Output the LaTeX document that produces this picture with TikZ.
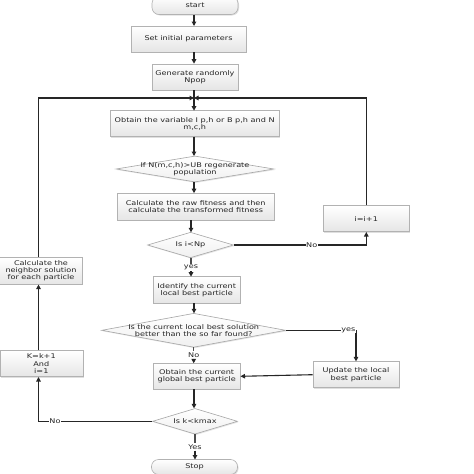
\documentclass[tikz,border=0pt]{standalone}
\usepackage{fontspec}
\setmainfont{DejaVu Sans}[FakeStretch=1.25]
\usetikzlibrary{arrows.meta,shapes.geometric,shadows}
\begin{document}
\begin{tikzpicture}[x=1pt,y=-1pt,
  every node/.style={font=\fontsize{6.5}{7.2}\selectfont, text=black!85, align=center},
  procbox/.style={rectangle, draw=black!30, line width=0.6pt, top color=white, bottom color=black!10,
    drop shadow={opacity=0.25, shadow xshift=1pt, shadow yshift=-1pt},
    inner sep=1pt, align=center},
  termbox/.style={procbox, rounded corners=7pt},
  decbox/.style={diamond, draw=black!35, line width=0.6pt, top color=white, bottom color=black!6,
    drop shadow={opacity=0.2, shadow xshift=1pt, shadow yshift=-1pt},
    inner sep=0pt, aspect=3},
  lbl/.style={fill=white, inner sep=0.5pt},
  flow/.style={draw=black!85, line width=1.1pt, -{Triangle[length=4.5pt,width=4.5pt]}},
  plain/.style={draw=black!70, line width=1.1pt}
]
\clip (0,0) rectangle (474,474);
\fill[white] (0,0) rectangle (474,474);

\node[termbox, minimum width=86pt, minimum height=18pt] (start) at (195,5.5) {start};
\node[procbox, minimum width=115pt, minimum height=26pt] (setp) at (188.5,39) {Set initial parameters};
\node[procbox, minimum width=86pt, minimum height=26pt] (gen) at (195,77) {Generate randomly\\Npop};
\coordinate (junc) at (194,98);
\node[procbox, minimum width=169pt, minimum height=26pt] (obt) at (194.7,123.7) {Obtain the variable I p,h or B p,h and N\\m,c,h};
\node[decbox, minimum width=158pt, minimum height=26pt] (ifn) at (195,169) {};
\node at (ifn) {If N(m,c,h)>UB regenerate\\population};
\node[procbox, minimum width=157pt, minimum height=27pt] (calc) at (195.7,206.7) {Calculate the raw fitness and then\\calculate the transformed fitness};
\node[decbox, minimum width=86pt, minimum height=25.5pt] (isnp) at (190.5,245) {};
\node at (isnp) {Is i<Np};
\node[procbox, minimum width=86pt, minimum height=26pt] (iplus) at (366.3,218.7) {i=i+1};
\node[procbox, minimum width=82.5pt, minimum height=26.5pt] (neigh) at (41,271) {Calculate the\\neighbor solution\\for each particle};
\node[procbox, minimum width=87pt, minimum height=26.6pt] (ident) at (196.7,290) {Identify the current\\local best particle};
\node[decbox, minimum width=184pt, minimum height=34pt] (better) at (193.7,330.3) {};
\node at (better) {Is the current local best solution\\better than the so far found?};
\node[procbox, minimum width=86pt, minimum height=26pt] (upd) at (356,374.7) {Update the local\\best particle};
\node[procbox, minimum width=87pt, minimum height=26pt] (glob) at (196.7,376.3) {Obtain the current\\global best particle};
\node[decbox, minimum width=85pt, minimum height=25.7pt] (iskm) at (195,421.3) {};
\node at (iskm) {Is k<kmax};
\node[procbox, minimum width=83pt, minimum height=26pt] (kek) at (41.3,363.7) {K=k+1\\And\\i=1};
\node[termbox, minimum width=86pt, minimum height=15pt] (stop) at (194.5,467) {Stop};

\coordinate (cl) at (38.5,98);
\coordinate (cr) at (366.3,98);

\draw[flow] (start.south -| 194,0) -- (194,26);
\draw[flow] (194,52) -- (gen.north -| 194,0);
\draw[flow] (gen.south -| 194,0) -- (194,110.7);
\draw[flow] (194,136.7) -- (194,156);
\draw[flow] (194,182) -- (194,193.2);
\draw[flow] (191,220.2) -- (191,232.3);
\draw[plain] (191,257.7) -- (191,264);
\draw[flow] (191,271) -- (191,276.7);
\draw[flow] (194,303.3) -- (194,313.3);
\draw[plain] (193.7,347.3) -- (193.7,351);
\draw[flow] (193.7,358.5) -- (193.7,363.3);
\draw[flow] (194,389.3) -- (194,408.4);
\draw[plain] (195,434.2) -- (195,442.5);
\draw[flow] (195,450.5) -- (195,459.5);

\draw[flow] (neigh.north -| cl) -- (cl) -- (junc);
\draw[flow] (iplus.north) -- (cr) -- (junc);
\draw[flow] (isnp.east) -| (iplus.south);
\node[lbl] at (311.7,245) {No};
\node[lbl] at (191,267.7) {yes};
\draw[flow] (better.east) -| (upd.north);
\node[lbl] at (348.3,330.3) {yes};
\node[lbl] at (193.7,355) {No};
\draw[flow] (upd.west) -- (glob.east);
\draw[flow] (iskm.west) -| (kek.south -| cl);
\node[lbl] at (55,421.3) {No};
\draw[flow] (kek.north -| cl) -- (neigh.south -| cl);
\node[lbl] at (195,446.7) {Yes};
\end{tikzpicture}
\end{document}
